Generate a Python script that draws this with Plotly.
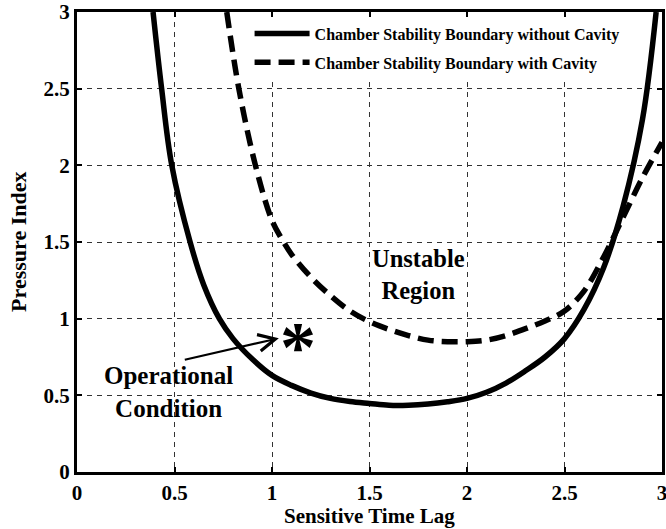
import plotly.graph_objects as go

# Chamber stability boundary without cavity (solid)
x_no_cav = [0.39, 0.434, 0.486, 0.58, 0.65, 0.73, 0.80, 0.90, 1.0, 1.1, 1.2, 1.3, 1.4,
            1.5, 1.6, 1.7, 1.8, 1.9, 2.0, 2.1, 2.2, 2.3, 2.4, 2.5, 2.6, 2.7, 2.8, 2.9, 2.97]
y_no_cav = [3.0, 2.5, 2.0, 1.5, 1.22, 1.0, 0.87, 0.735, 0.63, 0.565, 0.515, 0.48, 0.46,
            0.447, 0.435, 0.435, 0.443, 0.458, 0.48, 0.52, 0.58, 0.66, 0.75, 0.87, 1.06, 1.33, 1.73, 2.3, 3.0]

# Chamber stability boundary with cavity (dashed)
x_cav = [0.768, 0.83, 0.915, 1.0, 1.05, 1.1, 1.2, 1.3, 1.4, 1.5, 1.6, 1.7, 1.8, 1.9, 2.0,
         2.1, 2.2, 2.3, 2.4, 2.5, 2.6, 2.7, 2.8, 2.9, 3.0]
y_cav = [3.0, 2.5, 2.0, 1.64, 1.52, 1.42, 1.27, 1.15, 1.05, 0.98, 0.93, 0.89, 0.86, 0.85, 0.85,
         0.86, 0.89, 0.935, 0.985, 1.05, 1.18, 1.40, 1.66, 1.92, 2.15]

# Operational condition point
op_x = [1.135]
op_y = [0.872]

tick_vals = [0, 0.5, 1, 1.5, 2, 2.5, 3]
tick_text = ["0", "0.5", "1", "1.5", "2", "2.5", "3"]

FONT = "Liberation Serif"

fig = go.Figure()
fig.add_trace(go.Scatter(
    x=x_no_cav, y=y_no_cav, mode="lines", line_shape="spline",
    name="<b>Chamber Stability Boundary without Cavity</b>", legendgroup="a",
    line=dict(color="black", width=5.5)))
fig.add_trace(go.Scatter(
    x=x_cav, y=y_cav, mode="lines", line_shape="spline",
    name="<b>Chamber Stability Boundary with Cavity</b>", legendgroup="b",
    line=dict(color="black", width=5.5, dash="16px,8px")))
fig.add_trace(go.Scatter(
    x=op_x, y=op_y, mode="markers", marker=dict(size=1, opacity=0),
    showlegend=False, hoverinfo="skip"))

fig.add_annotation(x=op_x[0], y=op_y[0], xref="x", yref="y", text="<b>*</b>",
                   showarrow=False, yshift=-9,
                   font=dict(family=FONT, size=72, color="black"))
fig.add_annotation(x=1.75, y=1.285, xref="x", yref="y", text="<b>Unstable<br>Region</b>",
                   showarrow=False, font=dict(family=FONT, size=24.5, color="black"))
fig.add_annotation(x=0.467, y=0.52, xref="x", yref="y", text="<b>Operational<br>Condition</b>",
                   showarrow=False, font=dict(family=FONT, size=25, color="black"))
fig.add_annotation(x=1.035, y=0.872, ax=0.545, ay=0.73, xref="x", yref="y",
                   axref="x", ayref="y", text="", showarrow=True, arrowhead=5,
                   arrowsize=1.5, arrowwidth=2.2, arrowcolor="black")

# Axis titles
fig.add_annotation(x=0.5, y=-0.096, xref="paper", yref="paper", text="<b>Sensitive Time Lag</b>",
                   showarrow=False, xanchor="center", yanchor="middle",
                   font=dict(family=FONT, size=21, color="black"))
fig.add_annotation(x=-0.101, y=0.5, xref="paper", yref="paper", text="<b>Pressure Index</b>",
                   showarrow=False, xanchor="center", yanchor="middle", textangle=-90,
                   font=dict(family=FONT, size=22, color="black"))

axis_common = dict(
    range=[0, 3], tickvals=tick_vals, ticktext=["<b>" + t + "</b>" for t in tick_text],
    showline=True, linecolor="black", linewidth=3, mirror="ticks",
    ticks="inside", ticklen=5, tickwidth=1.5, tickcolor="black",
    showgrid=True, gridcolor="#333333", gridwidth=1, griddash="5px,5px",
    zeroline=False, tickfont=dict(family=FONT, size=21, color="black", weight="bold"),
    fixedrange=True, automargin=False, ticklabeloverflow="allow",
)

fig.update_layout(
    width=666, height=529,
    margin=dict(l=77, r=4, t=12, b=57),
    paper_bgcolor="white", plot_bgcolor="white",
    font=dict(family=FONT, color="black"),
    xaxis=dict(axis_common),
    yaxis=dict(axis_common),
    legend=dict(x=0.295, y=0.99, xanchor="left", yanchor="top",
                bgcolor="white", borderwidth=0, itemwidth=55,
                traceorder="grouped", tracegroupgap=5,
                font=dict(family=FONT, size=16, color="black")),
    showlegend=True,
)

fig.write_html("out.html")
